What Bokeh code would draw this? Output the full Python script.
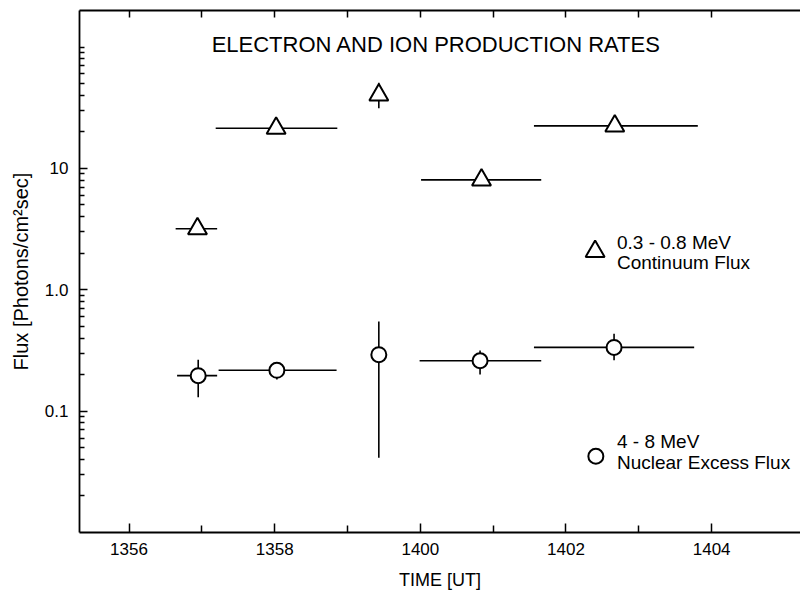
from bokeh.plotting import figure
from bokeh.models import Range1d, FixedTicker, LinearAxis, Label
from bokeh.embed import file_html
from bokeh.resources import INLINE

FONT = "Liberation Sans"

# time axis: minutes after 13:00 UT
tick_minutes = [56, 58, 60, 62, 64]
tick_labels = ["1356", "1358", "1400", "1402", "1404"]
minor_minutes = [57, 59, 61, 63]

flux_ticks = [0.1, 1, 10]
flux_tick_labels = ["0.1", "1.0", "10"]
flux_minor = [0.02, 0.03, 0.04, 0.05, 0.06, 0.07, 0.08, 0.09,
              0.2, 0.3, 0.4, 0.5, 0.6, 0.7, 0.8, 0.9,
              2, 3, 4, 5, 6, 7, 8, 9,
              20, 30, 40, 50, 60, 70, 80, 90, 100]

# 0.3 - 0.8 MeV continuum flux (triangles)
cont_t = [56.94, 58.02, 59.43, 60.84, 62.67]
cont_t_lo = [56.64, 57.19, 59.43, 60.01, 61.56]
cont_t_hi = [57.21, 58.86, 59.43, 61.66, 63.81]
cont_flux = [3.18, 21.4, 40.3, 8.04, 22.4]
cont_flux_lo = [3.18, 21.4, 31.3, 8.04, 22.4]
cont_flux_hi = [3.18, 21.4, 50.8, 8.04, 22.4]

# 4 - 8 MeV nuclear excess flux (circles)
nuc_t = [56.95, 58.03, 59.43, 60.82, 62.66]
nuc_t_lo = [56.66, 57.23, 59.43, 59.99, 61.56]
nuc_t_hi = [57.21, 58.85, 59.43, 61.66, 63.76]
nuc_flux = [0.196, 0.217, 0.292, 0.260, 0.335]
nuc_flux_lo = [0.130, 0.182, 0.0412, 0.200, 0.262]
nuc_flux_hi = [0.265, 0.240, 0.548, 0.316, 0.434]

p = figure(width=800, height=594,
           x_range=Range1d(55.32, 65.22), y_range=Range1d(0.01, 200),
           y_axis_type="log", output_backend="svg", toolbar_location=None,
           min_border_left=79, min_border_right=0, min_border_top=10,
           min_border_bottom=62)
p.outline_line_color = None
p.grid.visible = False
p.background_fill_color = "white"
p.border_fill_color = "white"

xa = p.xaxis[0]
ya = p.yaxis[0]
xa.ticker = FixedTicker(ticks=tick_minutes, minor_ticks=minor_minutes)
xa.major_label_overrides = dict(zip(tick_minutes, tick_labels))
ya.ticker = FixedTicker(ticks=flux_ticks, minor_ticks=flux_minor)
ya.major_label_overrides = dict(zip(flux_ticks, flux_tick_labels))

# top frame edge with inward ticks only (no labels)
top = LinearAxis(ticker=FixedTicker(ticks=[], minor_ticks=tick_minutes + minor_minutes))
p.add_layout(top, "above")

for ax in (xa, ya, top):
    ax.axis_line_width = 1.8
    ax.axis_line_color = "black"
    ax.major_tick_line_width = 1.5
    ax.minor_tick_line_width = 1.5
    ax.major_tick_line_color = "black"
    ax.minor_tick_line_color = "black"
    ax.major_tick_out = 0
    ax.minor_tick_out = 0
    ax.major_label_text_font = FONT
    ax.major_label_text_color = "black"
    ax.axis_label_text_font = FONT
    ax.axis_label_text_font_style = "normal"
    ax.axis_label_text_color = "black"

xa.major_tick_in = 9
xa.minor_tick_in = 7
top.minor_tick_in = 7
ya.major_tick_in = 8
ya.minor_tick_in = 5

xa.major_label_text_font_size = "17px"
ya.major_label_text_font_size = "17px"
xa.major_label_standoff = 10
ya.major_label_standoff = 11
xa.axis_label = "TIME [UT]"
ya.axis_label = "Flux [Photons/cm²sec]"
xa.axis_label_text_font_size = "18px"
ya.axis_label_text_font_size = "20px"
xa.axis_label_standoff = 12
ya.axis_label_standoff = 10

# horizontal bars (time bins) and vertical error bars
p.segment(x0=cont_t_lo, x1=cont_t_hi, y0=cont_flux, y1=cont_flux,
          line_color="black", line_width=1.6)
p.segment(x0=cont_t, x1=cont_t, y0=cont_flux_lo, y1=cont_flux_hi,
          line_color="black", line_width=1.6)
p.segment(x0=nuc_t_lo, x1=nuc_t_hi, y0=nuc_flux, y1=nuc_flux,
          line_color="black", line_width=1.6)
p.segment(x0=nuc_t, x1=nuc_t, y0=nuc_flux_lo, y1=nuc_flux_hi,
          line_color="black", line_width=1.6)

p.scatter(cont_t, cont_flux, marker="triangle", size=19,
          fill_color="white", line_color="black", line_width=2)
p.scatter(nuc_t, nuc_flux, marker="circle", size=15,
          fill_color="white", line_color="black", line_width=2)

# title
p.add_layout(Label(x=60.22, y=104, text="ELECTRON AND ION PRODUCTION RATES",
                   text_align="center", text_baseline="middle",
                   text_font=FONT, text_font_size="22px", text_color="black"))

# legend
p.scatter([62.40], [2.07], marker="triangle", size=19,
          fill_color="white", line_color="black", line_width=2)
p.scatter([62.41], [0.0425], marker="circle", size=15,
          fill_color="white", line_color="black", line_width=2)
for (yy, txt) in [(2.45, "0.3 - 0.8 MeV"), (1.67, "Continuum Flux"),
                  (0.0564, "4 - 8 MeV"), (0.0377, "Nuclear Excess Flux")]:
    p.add_layout(Label(x=62.70, y=yy, text=txt, text_align="left",
                       text_baseline="middle", text_font=FONT,
                       text_font_size="19px", text_color="black"))

open("out.html", "w").write(file_html(p, INLINE))
